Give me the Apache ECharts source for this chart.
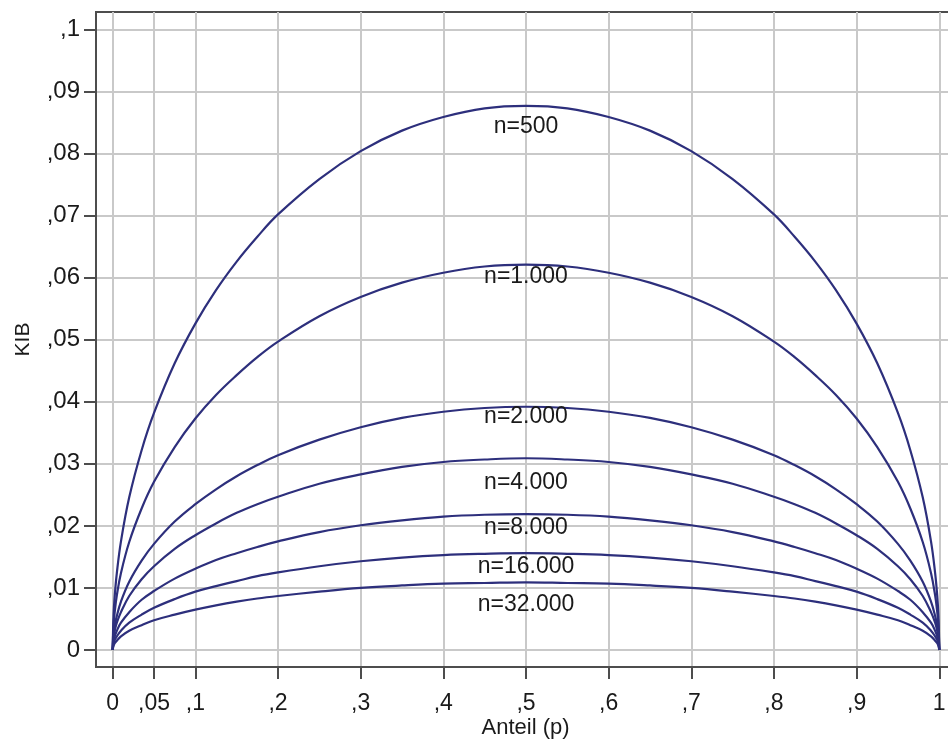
<!DOCTYPE html>
<html>
<head>
<meta charset="utf-8">
<script src="https://cdn.jsdelivr.net/npm/echarts@6/dist/echarts.min.js"></script>
<style>
  html, body { margin: 0; padding: 0; background: #ffffff; }
  #chart { width: 948px; height: 740px; }
</style>
</head>
<body>
<div id="chart"></div>
<script>
// Anteil p (x values shared by all curves)
const pValues = [0, 0.001, 0.0025, 0.005, 0.01, 0.02, 0.035, 0.05, 0.075, 0.1, 0.125, 0.15, 0.175, 0.2, 0.25, 0.3, 0.35, 0.4, 0.45, 0.5,
  0.55, 0.6, 0.65, 0.7, 0.75, 0.8, 0.825, 0.85, 0.875, 0.9, 0.925, 0.95, 0.965, 0.98, 0.99, 0.995, 0.9975, 0.999, 1];

// KIB per sample size
const kib500 = [0, 0.0055, 0.0088, 0.0124, 0.0175, 0.0246, 0.0322, 0.0382, 0.0462, 0.0526, 0.0580, 0.0626, 0.0666, 0.0702, 0.0759, 0.0804, 0.0837, 0.0859, 0.0873, 0.0877,
  0.0873, 0.0859, 0.0837, 0.0804, 0.0759, 0.0702, 0.0666, 0.0626, 0.0580, 0.0526, 0.0462, 0.0382, 0.0322, 0.0246, 0.0175, 0.0124, 0.0088, 0.0055, 0];
const kib1000 = [0, 0.0039, 0.0062, 0.0088, 0.0124, 0.0174, 0.0228, 0.0271, 0.0327, 0.0373, 0.0411, 0.0443, 0.0472, 0.0497, 0.0538, 0.0569, 0.0592, 0.0608, 0.0618, 0.0621,
  0.0618, 0.0608, 0.0592, 0.0569, 0.0538, 0.0497, 0.0472, 0.0443, 0.0411, 0.0373, 0.0327, 0.0271, 0.0228, 0.0174, 0.0124, 0.0088, 0.0062, 0.0039, 0];
const kib2000 = [0, 0.0025, 0.0039, 0.0055, 0.0078, 0.0110, 0.0144, 0.0171, 0.0207, 0.0235, 0.0259, 0.0280, 0.0298, 0.0314, 0.0339, 0.0359, 0.0374, 0.0384, 0.0390, 0.0392,
  0.0390, 0.0384, 0.0374, 0.0359, 0.0339, 0.0314, 0.0298, 0.0280, 0.0259, 0.0235, 0.0207, 0.0171, 0.0144, 0.0110, 0.0078, 0.0055, 0.0039, 0.0025, 0];
const kib4000 = [0, 0.0020, 0.0031, 0.0044, 0.0061, 0.0087, 0.0114, 0.0135, 0.0163, 0.0185, 0.0204, 0.0221, 0.0235, 0.0247, 0.0268, 0.0283, 0.0295, 0.0303, 0.0307, 0.0309,
  0.0307, 0.0303, 0.0295, 0.0283, 0.0268, 0.0247, 0.0235, 0.0221, 0.0204, 0.0185, 0.0163, 0.0135, 0.0114, 0.0087, 0.0061, 0.0044, 0.0031, 0.0020, 0];
const kib8000 = [0, 0.0014, 0.0022, 0.0031, 0.0044, 0.0061, 0.0081, 0.0095, 0.0115, 0.0131, 0.0145, 0.0156, 0.0166, 0.0175, 0.0190, 0.0201, 0.0209, 0.0215, 0.0218, 0.0219,
  0.0218, 0.0215, 0.0209, 0.0201, 0.0190, 0.0175, 0.0166, 0.0156, 0.0145, 0.0131, 0.0115, 0.0095, 0.0081, 0.0061, 0.0044, 0.0031, 0.0022, 0.0014, 0];
const kib16000 = [0, 0.0010, 0.0016, 0.0022, 0.0031, 0.0044, 0.0057, 0.0068, 0.0082, 0.0094, 0.0103, 0.0111, 0.0119, 0.0125, 0.0135, 0.0143, 0.0149, 0.0153, 0.0155, 0.0156,
  0.0155, 0.0153, 0.0149, 0.0143, 0.0135, 0.0125, 0.0119, 0.0111, 0.0103, 0.0094, 0.0082, 0.0068, 0.0057, 0.0044, 0.0031, 0.0022, 0.0016, 0.0010, 0];
const kib32000 = [0, 0.0007, 0.0011, 0.0015, 0.0022, 0.0031, 0.0040, 0.0048, 0.0057, 0.0065, 0.0072, 0.0078, 0.0083, 0.0087, 0.0094, 0.0100, 0.0104, 0.0107, 0.0108, 0.0109,
  0.0108, 0.0107, 0.0104, 0.0100, 0.0094, 0.0087, 0.0083, 0.0078, 0.0072, 0.0065, 0.0057, 0.0048, 0.0040, 0.0031, 0.0022, 0.0015, 0.0011, 0.0007, 0];

const curveNames = ['n=500', 'n=1.000', 'n=2.000', 'n=4.000', 'n=8.000', 'n=16.000', 'n=32.000'];
const curveValues = [kib500, kib1000, kib2000, kib4000, kib8000, kib16000, kib32000];

// Tick positions
const xTicks = [0, 0.05, 0.1, 0.2, 0.3, 0.4, 0.5, 0.6, 0.7, 0.8, 0.9, 1];
const yTicks = [0, 0.01, 0.02, 0.03, 0.04, 0.05, 0.06, 0.07, 0.08, 0.09, 0.1];

// Curve names sit under the peak at p = 0.5; pixel gap from peak to text centre
const labelAt = 0.5;
const labelOffsets = [21, 12, 10, 24, 14, 13, 22];

const FONT = '"Liberation Sans", Arial, sans-serif';
const LINE = '#2d2f7c';
const AXIS = '#4d4d4d';
const GRID = '#c9c9c9';

function fmt(v) {
  const s = String(Number(v.toFixed(3)));
  return s.startsWith('0.') ? ',' + s.slice(2) : s;
}

const peakIdx = pValues.indexOf(labelAt);

const series = curveValues.map((vals, i) => ({
  name: curveNames[i],
  type: 'line',
  data: pValues.map((p, j) => [p, vals[j]]),
  showSymbol: false,
  symbol: 'none',
  smooth: 0.4,
  lineStyle: { color: LINE, width: 2.2 },
  z: 3,
  silent: true,
  markPoint: {
    symbol: 'circle',
    symbolSize: 1,
    itemStyle: { color: 'rgba(0,0,0,0)' },
    silent: true,
    data: [{
      coord: [pValues[peakIdx], vals[peakIdx]],
      label: {
        show: true,
        formatter: curveNames[i],
        position: 'inside',
        offset: [0, labelOffsets[i]],
        fontFamily: FONT,
        fontSize: 23,
        color: '#1a1a1a'
      }
    }]
  }
}));

const chart = echarts.init(document.getElementById('chart'), null, { renderer: 'canvas' });
chart.setOption({
  animation: false,
  backgroundColor: '#ffffff',
  grid: {
    left: 96, right: -3, top: 12, bottom: 73,
    outerBoundsMode: 'none',
    containLabel: false,
    show: true, borderColor: AXIS, borderWidth: 2, backgroundColor: '#ffffff'
  },
  xAxis: {
    type: 'value',
    min: -0.0202, max: 1.0142,
    name: 'Anteil (p)',
    nameLocation: 'middle',
    nameGap: 50,
    nameMoveOverlap: false,
    nameTextStyle: { fontFamily: FONT, fontSize: 22, color: '#1a1a1a', padding: [0, 0, 0, 4] },
    axisLine: { show: true, onZero: false, lineStyle: { color: AXIS, width: 2 } },
    axisTick: { show: true, length: 12, customValues: xTicks, lineStyle: { color: AXIS, width: 2 } },
    axisLabel: {
      customValues: xTicks, margin: 25, fontFamily: FONT, fontSize: 23, color: '#1a1a1a',
      formatter: fmt, showMinLabel: true, showMaxLabel: true
    },
    splitLine: { show: true, lineStyle: { color: GRID, width: 2 } }
  },
  yAxis: {
    type: 'value',
    min: -0.00274, max: 0.10282,
    name: 'KIB',
    nameLocation: 'middle',
    nameGap: 62,
    nameMoveOverlap: false,
    nameTextStyle: { fontFamily: FONT, fontSize: 21, color: '#1a1a1a' },
    axisLine: { show: true, onZero: false, lineStyle: { color: AXIS, width: 2 } },
    axisTick: { show: true, length: 12, customValues: yTicks, lineStyle: { color: AXIS, width: 2 } },
    axisLabel: {
      customValues: yTicks, margin: 16, fontFamily: FONT, fontSize: 24, color: '#1a1a1a',
      formatter: fmt, showMinLabel: true, showMaxLabel: true
    },
    splitLine: { show: true, lineStyle: { color: GRID, width: 2 } }
  },
  series: series
});
</script>
</body>
</html>
